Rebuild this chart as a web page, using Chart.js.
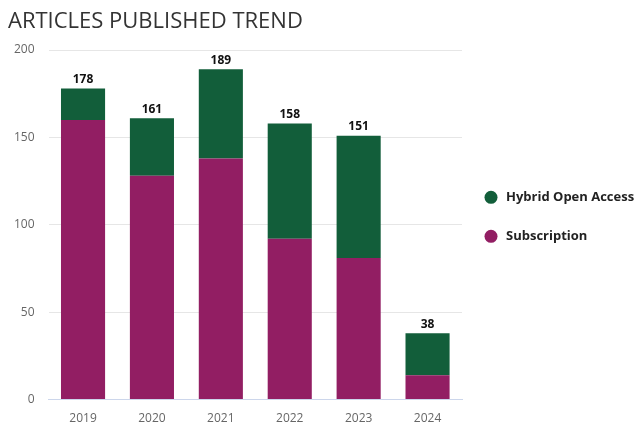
<!DOCTYPE html>
<html><head><meta charset="utf-8">
<script src="https://cdn.jsdelivr.net/npm/chart.js@4"></script>
<style>html,body{margin:0;padding:0;background:#fff}#wrap{width:637px;height:424px}</style>
</head><body><div id="wrap"><canvas id="c"></canvas></div>
<script>
const categories = ['2019','2020','2021','2022','2023','2024'];
const subscription = [160,128,138,92,81,14];
const hybridOpenAccess = [18,33,51,66,70,24];
const yTicks = [0,50,100,150,200];
const titleText = 'ARTICLES PUBLISHED TREND';

const totalsPlugin = {
  id:'totals',
  afterDatasetsDraw(chart){
    const {ctx, scales:{x,y}} = chart;
    ctx.save();
    ctx.font = 'bold 12px "Open Sans"';
    ctx.fillStyle = '#111';
    ctx.textAlign = 'center';
    ctx.textBaseline = 'bottom';
    categories.forEach((c,i)=>{
      const t = subscription[i] + hybridOpenAccess[i];
      ctx.fillText(String(t), x.getPixelForValue(i), y.getPixelForValue(t) - 3);
    });
    ctx.restore();
  }
};

const decorPlugin = {
  id:'decor',
  afterDraw(chart){
    const {ctx, chartArea} = chart;
    ctx.save();
    ctx.font = '22px "Open Sans"';
    ctx.fillStyle = '#333';
    ctx.textAlign = 'left';
    ctx.textBaseline = 'alphabetic';
    ctx.fillText(titleText, 8, 28);
    const items = chart.data.datasets.map(d=>({label:d.label, color:d.backgroundColor})).reverse();
    const midY = (chartArea.top + chartArea.bottom)/2 - 8;
    const gap = 39;
    const startY = midY - gap*(items.length-1)/2;
    ctx.font = 'bold 13px "Open Sans"';
    ctx.textBaseline = 'middle';
    items.forEach((it,i)=>{
      const cy = startY + i*gap;
      ctx.beginPath();
      ctx.arc(491, cy, 6.5, 0, Math.PI*2);
      ctx.fillStyle = it.color;
      ctx.fill();
      ctx.fillStyle = '#222';
      ctx.fillText(it.label, 506, cy);
    });
    ctx.restore();
  }
};

function draw(){
new Chart(document.getElementById('c'), {
  type:'bar',
  data:{
    labels:categories,
    datasets:[
      {label:'Subscription', data:subscription, backgroundColor:'#921e63', categoryPercentage:0.64, barPercentage:1},
      {label:'Hybrid Open Access', data:hybridOpenAccess, backgroundColor:'#125e3a', categoryPercentage:0.64, barPercentage:1}
    ]
  },
  options:{
    responsive:true, maintainAspectRatio:false, animation:false,
    layout:{padding:{left:0,right:175,top:50,bottom:-14}},
    plugins:{
      title:{display:false},
      legend:{display:false},
      tooltip:{enabled:false}
    },
    scales:{
      x:{stacked:true, grid:{display:false, drawTicks:false}, border:{color:'#ccd6eb'},
        ticks:{color:'#666', padding:12, font:{family:'"Open Sans"', size:12}}},
      y:{stacked:true, min:0, max:200, afterBuildTicks(s){s.ticks = yTicks.map(v=>({value:v}));},
        grid:{color:'#e6e6e6', drawTicks:false}, border:{display:false},
        ticks:{color:'#666', padding:14, font:{family:'"Open Sans"', size:12}}}
    }
  },
  plugins:[totalsPlugin, decorPlugin]
});
}
Promise.all([
  document.fonts.load('bold 13px "Open Sans"'),
  document.fonts.load('22px "Open Sans"'),
  document.fonts.load('12px "Open Sans"')
]).then(draw, draw);
</script></body></html>
